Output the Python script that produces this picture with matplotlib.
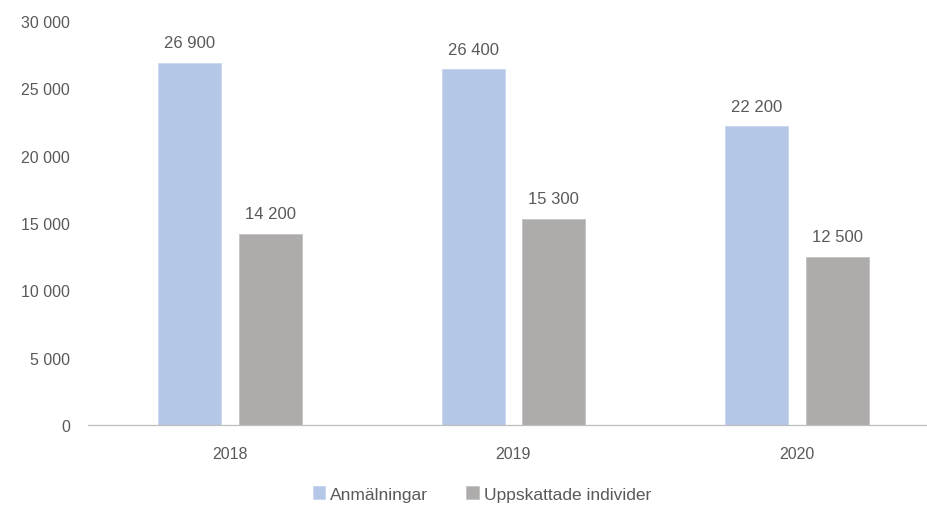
import numpy as np
import matplotlib.pyplot as plt
from matplotlib import font_manager

# Data
years = ["2018", "2019", "2020"]
anmalningar = [26900, 26400, 22200]
uppskattade = [14200, 15300, 12500]
series_names = ["Anmälningar", "Uppskattade individer"]
y_ticks = [0, 5000, 10000, 15000, 20000, 25000, 30000]

# Font: narrow sans if available
names = {f.name for f in font_manager.fontManager.ttflist}
font = "Liberation Sans Narrow" if "Liberation Sans Narrow" in names else "Liberation Sans"
plt.rcParams["font.family"] = [font, "DejaVu Sans"]
plt.rcParams["font.size"] = 11.5
text_color = "#595959"

def fmt(v):
    return f"{v:,}".replace(",", " ")

fig = plt.figure(figsize=(9.28, 5.06), dpi=100)
ax = fig.add_axes([88 / 928, 1 - 426 / 506, (926 - 88) / 928, (426 - 22) / 506])

x = np.arange(len(years))
width = 0.222
offset = 0.142
bars1 = ax.bar(x - offset, anmalningar, width, color="#B4C7E7", edgecolor="#C9D6EE",
               linewidth=0.6, label=series_names[0])
bars2 = ax.bar(x + offset, uppskattade, width, color="#AEABAB", edgecolor="#C4C2C2",
               linewidth=0.6, label=series_names[1])

for bars, vals in [(bars1, anmalningar), (bars2, uppskattade)]:
    for b, v in zip(bars, vals):
        ax.annotate(fmt(v), (b.get_x() + b.get_width() / 2, v), xytext=(0, 9),
                    textcoords="offset points", ha="center", va="bottom",
                    color=text_color, fontsize=12)

ax.set_xlim(-0.5, 2.455)
ax.set_ylim(0, 30000)
ax.set_xticks(x)
ax.set_xticklabels(years)
ax.set_yticks(y_ticks)
ax.set_yticklabels([fmt(t) for t in y_ticks])
ax.tick_params(axis="both", length=0, colors=text_color)
ax.tick_params(axis="y", pad=13)
ax.tick_params(axis="x", pad=15)

for s in ["top", "right", "left"]:
    ax.spines[s].set_visible(False)
ax.spines["bottom"].set_color("#BFBFBF")
ax.spines["bottom"].set_linestyle((0, (2, 1)))
ax.spines["bottom"].set_linewidth(0.9)

leg = fig.legend(loc="center", bbox_to_anchor=(482 / 928, 1 - 495 / 506), ncol=2,
                 frameon=False, handlelength=0.7, handleheight=0.7, handletextpad=0.3,
                 columnspacing=2.2, fontsize=12.5)
for t in leg.get_texts():
    t.set_color(text_color)

fig.savefig("out.png", dpi=100)
